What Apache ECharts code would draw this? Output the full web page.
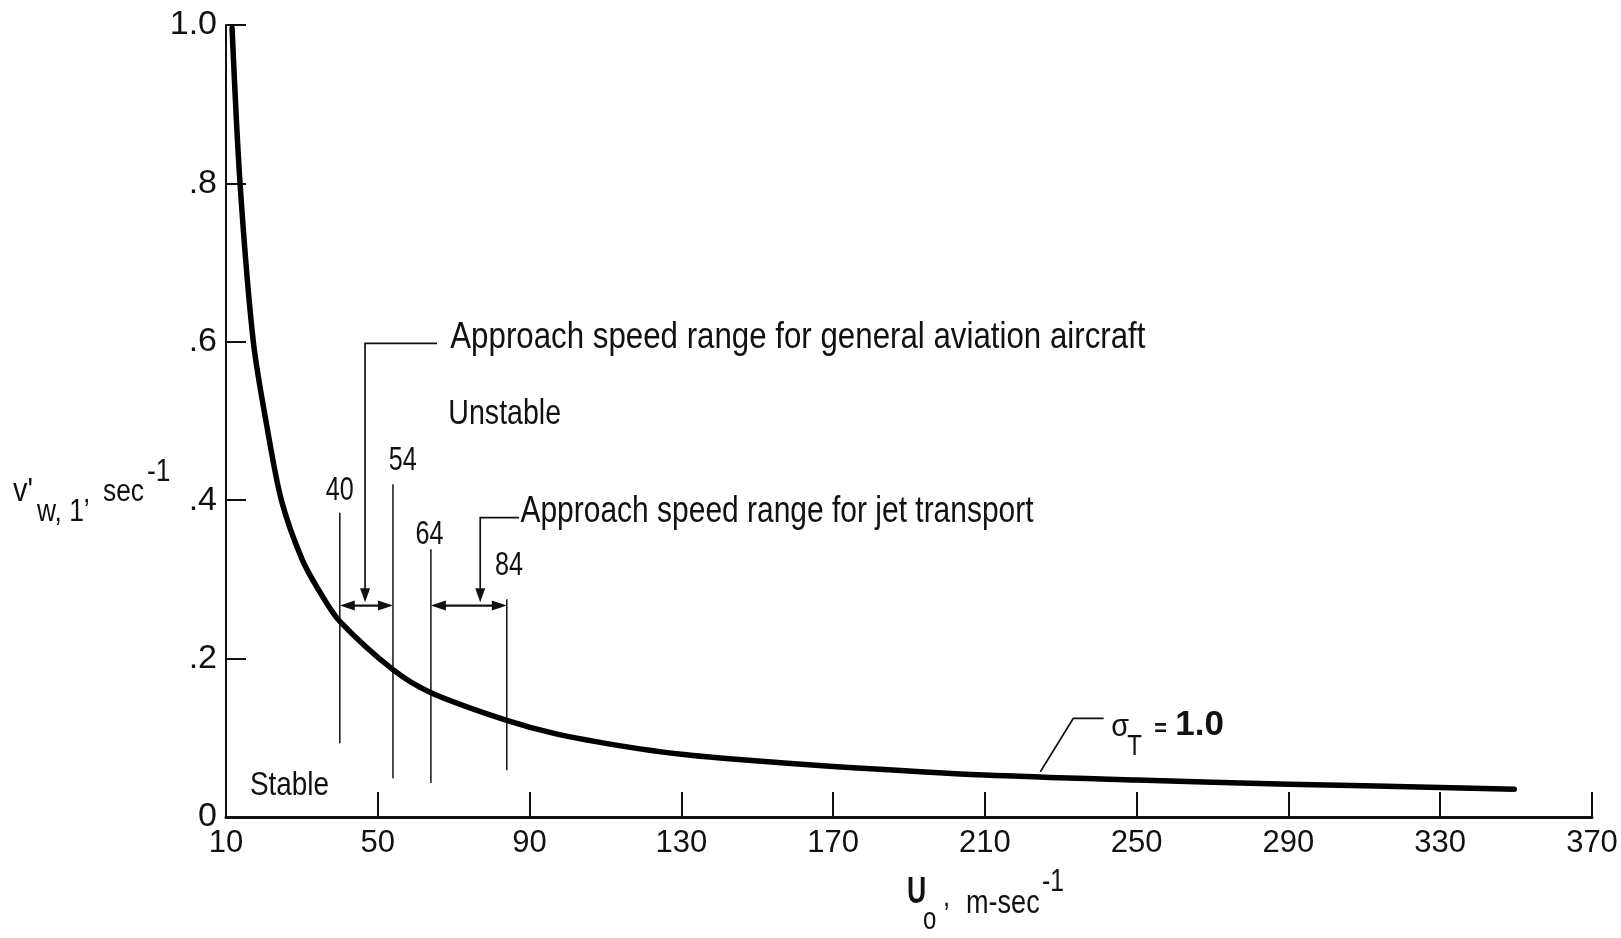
<!DOCTYPE html>
<html>
<head>
<meta charset="utf-8">
<script src="https://cdn.jsdelivr.net/npm/echarts@6/dist/echarts.min.js"></script>
<style>
html,body{margin:0;padding:0;background:#fff;}
#c{width:1621px;height:938px;}
</style>
</head>
<body>
<div id="c"></div>
<script>
// ---------------- DATA ----------------
const uValues = [11.6, 13.7, 17.2, 20.9, 24.6, 30, 35, 40, 54, 64, 84, 97, 115.7, 130, 146, 170, 210, 250, 290, 330, 349.5];
const vValues = [0.996, 0.80, 0.60, 0.49, 0.40, 0.326, 0.282, 0.247, 0.186, 0.157, 0.122, 0.105, 0.0885, 0.0792, 0.0722, 0.0638, 0.053, 0.0467, 0.0415, 0.0372, 0.035];
const xTickValues = [10, 50, 90, 130, 170, 210, 250, 290, 330, 370];
const yTickValues = [0, 0.2, 0.4, 0.6, 0.8, 1.0];
const yTickLabels = ['0', '.2', '.4', '.6', '.8', '1.0'];
const speedMarks = [40, 54, 64, 84];
const markLabels = ['40', '54', '64', '84'];
const gaRange = [40, 54];
const jetRange = [64, 84];
const gaText = 'Approach speed range for general aviation aircraft';
const jetText = 'Approach speed range for jet transport';
const curveLabel = '1.0';

// ---------------- ANNOTATION LAYOUT (data units) ----------------
const markSpans = [[0.093, 0.384], [0.049, 0.42], [0.043, 0.338], [0.059, 0.275]];
const markLabelAt = [[40, 0.412], [56.6, 0.45], [63.6, 0.356], [84.6, 0.317]];
const rangeArrowV = 0.267;
const gaLeader = { textU: 69.1, textV: 0.605, lineEndU: 65.6, stemU: 46.65, tipV: 0.271 };
const jetLeader = { textU: 87.6, textV: 0.385, lineEndU: 87.2, stemU: 77.0, tipV: 0.271 };
const unstableAt = [68.6, 0.508];
const stableAt = [16.3, 0.040];
const sigmaLeader = [[224.6, 0.057], [233.3, 0.1246], [241.3, 0.1246]];
const sigmaAt = [243.3, 0.114];

const FONT = '"Liberation Sans", Arial, sans-serif';
const INK = '#111';

const chart = echarts.init(document.getElementById('c'), null, { renderer: 'canvas' });

const option = {
  animation: false,
  backgroundColor: '#fff',
  grid: { left: 226, right: 29, top: 25, bottom: 121, containLabel: false, outerBoundsMode: 'none' },
  xAxis: {
    type: 'value', min: 10, max: 370, interval: 40,
    axisLine: { show: true, lineStyle: { color: INK, width: 3 } },
    axisTick: { show: true, inside: true, length: 25, lineStyle: { color: INK, width: 2 } },
    axisLabel: { show: true, margin: 11, color: INK, fontFamily: FONT, fontSize: 31,
      formatter: v => (xTickValues.indexOf(Math.round(v)) >= 0 ? String(Math.round(v)) : '') },
    splitLine: { show: false }
  },
  yAxis: {
    type: 'value', min: 0, max: 1, interval: 0.2,
    axisLine: { show: true, lineStyle: { color: INK, width: 2 } },
    axisTick: { show: true, inside: true, length: 20, lineStyle: { color: INK, width: 2 } },
    axisLabel: { show: true, margin: 9, color: INK, fontFamily: FONT, fontSize: 34,
      formatter: v => { const i = yTickValues.findIndex(t => Math.abs(t - v) < 1e-6); return i >= 0 ? yTickLabels[i] : ''; } },
    splitLine: { show: false }
  },
  series: [{
    type: 'line',
    data: uValues.map((u, i) => [u, vValues[i]]),
    showSymbol: false,
    smooth: 0.3,
    lineStyle: { color: '#000', width: 5.5, cap: 'round', join: 'round' },
    silent: true
  }]
};
chart.setOption(option);

const P = (u, v) => chart.convertToPixel({ gridIndex: 0 }, [u, v]);
const G = [];
function seg(a, b, w) {
  G.push({ type: 'line', silent: true, shape: { x1: a[0], y1: a[1], x2: b[0], y2: b[1] }, style: { stroke: INK, lineWidth: w } });
}
function poly(pts, w) {
  G.push({ type: 'polyline', silent: true, shape: { points: pts }, style: { stroke: INK, lineWidth: w, fill: null } });
}
function head(tip, dx, dy, len, half) {
  const bx = tip[0] - dx * len, by = tip[1] - dy * len;
  const nx = -dy, ny = dx;
  G.push({ type: 'polygon', silent: true, shape: { points: [[tip[0], tip[1]], [bx + nx * half, by + ny * half], [bx - nx * half, by - ny * half]] }, style: { fill: INK } });
}
function txt(s, x, y, size, opts) {
  opts = opts || {};
  const sx = opts.sx || 0.82;
  G.push({ type: 'text', silent: true, x: x, y: y, scaleX: sx, scaleY: 1, style: {
    text: s, font: (opts.bold ? 'bold ' : '') + size + 'px ' + FONT, fill: INK,
    align: opts.align || 'left', textAlign: opts.align || 'left',
    verticalAlign: 'middle', textVerticalAlign: 'middle' } });
}

// speed marker lines and their labels
speedMarks.forEach((m, i) => {
  seg(P(m, markSpans[i][0]), P(m, markSpans[i][1]), 1.5);
  const lp = P(markLabelAt[i][0], markLabelAt[i][1]);
  txt(markLabels[i], lp[0], lp[1], 34, { align: 'center', sx: 0.74 });
});

// double-headed range arrows
[gaRange, jetRange].forEach(r => {
  const a = P(r[0], rangeArrowV), b = P(r[1], rangeArrowV);
  seg([a[0] + 6, a[1]], [b[0] - 6, b[1]], 2.2);
  head(a, -1, 0, 15, 5);
  head(b, 1, 0, 15, 5);
});

// leader lines with downward arrows
[[gaLeader, gaText, 0.845], [jetLeader, jetText, 0.81]].forEach(([L, s, sx]) => {
  const end = P(L.lineEndU, L.textV - 0.007);
  const corner = P(L.stemU, L.textV - 0.007);
  const tip = P(L.stemU, L.tipV);
  poly([end, corner, [corner[0], tip[1] - 8]], 1.7);
  head(tip, 0, 1, 14, 5);
  const tp = P(L.textU, L.textV);
  txt(s, tp[0], tp[1], 37, { sx: sx });
});

// Unstable / Stable
let p = P(unstableAt[0], unstableAt[1]);
txt('Unstable', p[0], p[1], 35, { sx: 0.816 });
p = P(stableAt[0], stableAt[1]);
txt('Stable', p[0], p[1], 34, { sx: 0.82 });

// sigma_T label
poly(sigmaLeader.map(q => P(q[0], q[1])), 1.8);
p = P(sigmaAt[0], sigmaAt[1]);
txt('σ', p[0], p[1], 32, { sx: 0.9 });
txt('T', p[0] + 16, p[1] + 20, 30, { sx: 0.8 });
txt('=', p[0] + 43, p[1] + 3, 24, { sx: 0.9, bold: true });
txt(curveLabel, p[0] + 64, p[1] - 1, 35, { bold: true, sx: 1.0 });

// y-axis name: v'_{w,1}, sec^-1
txt("v'", 13, 492, 34, { sx: 0.85 });
txt('w, 1’', 37, 512, 31, { sx: 0.85 });
txt('sec', 103, 492, 31, { sx: 0.85 });
txt('-1', 147, 472, 31, { sx: 0.85 });

// x-axis name: U_o, m-sec^-1
txt('U', 907, 893, 37, { bold: true, sx: 0.72 });
txt('o', 923, 920, 32, { sx: 0.75 });
txt(',', 943, 897, 32, { sx: 0.8 });
txt('m-sec', 966, 904, 33, { sx: 0.82 });
txt('-1', 1042, 882, 31, { sx: 0.8 });

chart.setOption({ graphic: { elements: G } });
</script>
</body>
</html>
